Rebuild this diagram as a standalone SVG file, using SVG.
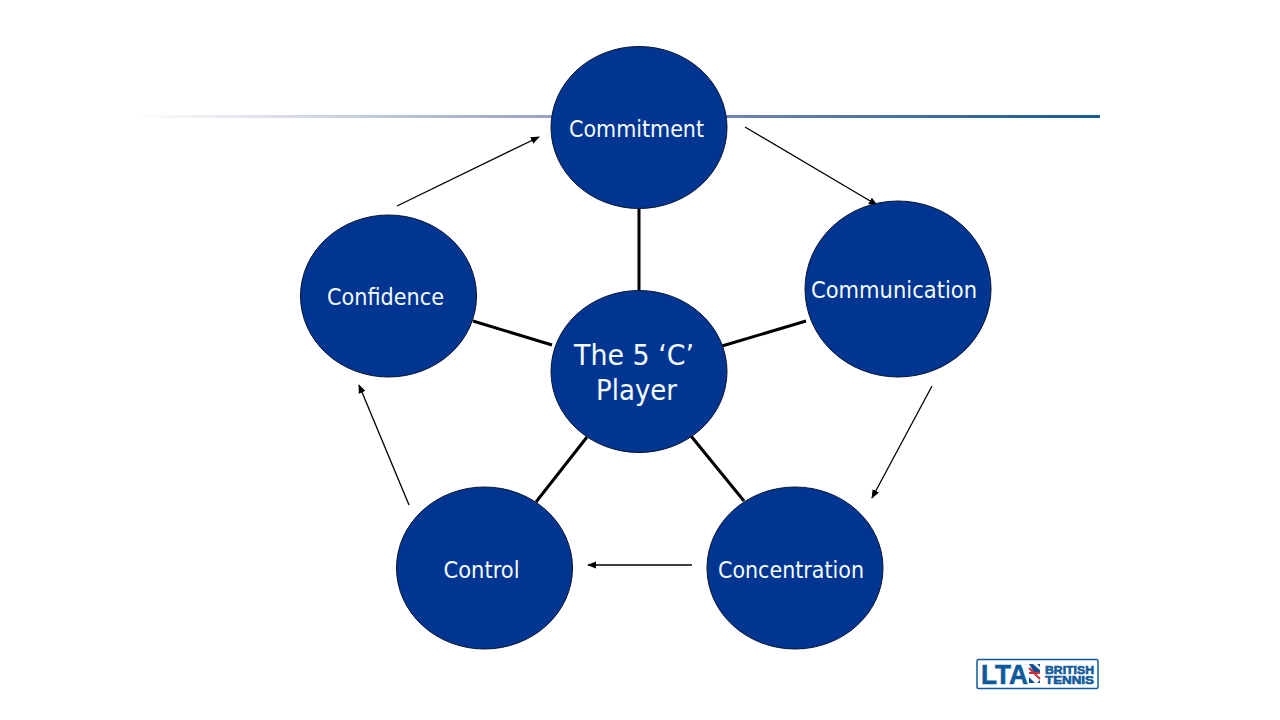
<svg xmlns="http://www.w3.org/2000/svg" width="1280" height="720" viewBox="0 0 1280 720">
<defs>
<linearGradient id="g" x1="0" x2="1" y1="0" y2="0"><stop offset="0" stop-color="#fff"/><stop offset="0.43" stop-color="#96a3c2"/><stop offset="0.62" stop-color="#6f84ac"/><stop offset="1" stop-color="#185a94"/></linearGradient>
<marker id="a" viewBox="0 0 10 10" refX="9" refY="5" markerWidth="9" markerHeight="9" markerUnits="userSpaceOnUse" orient="auto"><path d="M0 1L10 5L0 9Z" fill="#000"/></marker>
</defs>
<style>
.n{fill:#003591;stroke:#0a1430;stroke-width:1}
.t{font-family:"DejaVu Sans",Verdana,sans-serif;font-stretch:condensed;fill:#f4fbff;font-size:23px;text-anchor:middle}
.b{font-size:29px}
.s{stroke:#000;stroke-width:3;fill:none}
.f{stroke:#000;stroke-width:1.300;fill:none;marker-end:url(#a)}
.l{font-family:"Liberation Sans",Arial,sans-serif;font-weight:700;fill:#0f5a9c;stroke:#0f5a9c;stroke-width:.6}
</style>
<rect width="1280" height="720" fill="#fff"/>
<rect x="130" y="115" width="970" height="3" fill="url(#g)"/>
<g id="connectors">
<path class="s" d="M639 208V291M473 321L552 345M806 321L722 346M587 437L536 502M691 436L744 501"/>
<path class="f" d="M397 206L539 137"/>
<path class="f" d="M745 127L877 205"/>
<path class="f" d="M932 386L872 498"/>
<path class="f" d="M692 565H588"/>
<path class="f" d="M409 505L359 385"/>
</g>
<g id="commitment"><ellipse class="n" cx="639" cy="127.500" rx="88" ry="81"/><text class="t" x="636.500" y="136.500" textLength="135" lengthAdjust="spacingAndGlyphs">Commitment</text></g>
<g id="confidence"><ellipse class="n" cx="388.500" cy="296" rx="88" ry="81"/><text class="t" x="385.500" y="304.500" textLength="117" lengthAdjust="spacingAndGlyphs">Confidence</text></g>
<g id="communication"><ellipse class="n" cx="898" cy="289" rx="93" ry="88"/><text class="t" x="894" y="297.500" textLength="166" lengthAdjust="spacingAndGlyphs">Communication</text></g>
<g id="player"><ellipse class="n" cx="639" cy="371.500" rx="88" ry="81"/><text class="t b" x="634" y="365" textLength="120" lengthAdjust="spacingAndGlyphs">The 5 ‘C’</text><text class="t b" x="636.500" y="400" textLength="81" lengthAdjust="spacingAndGlyphs">Player</text></g>
<g id="control"><ellipse class="n" cx="484.500" cy="568" rx="88" ry="81"/><text class="t" x="481.500" y="577.500" textLength="76" lengthAdjust="spacingAndGlyphs">Control</text></g>
<g id="concentration"><ellipse class="n" cx="795" cy="568" rx="88" ry="81"/><text class="t" x="791" y="577.500" textLength="146" lengthAdjust="spacingAndGlyphs">Concentration</text></g>
<g id="logo">
<rect x="977" y="659.500" width="121" height="29" rx="1.500" fill="#fff" stroke="#0f5a9c" stroke-width="1.500"/>
<text class="l" x="981" y="683.500" font-size="27" textLength="47" lengthAdjust="spacingAndGlyphs">LTA</text>
<rect x="1028" y="664" width="12" height="19" fill="#fff"/>
<path d="M1029 664H1033L1040 670V674H1035ZM1029 683V677L1035 683ZM1040 664V667L1037 664ZM1040 683H1037L1040 680Z" fill="#0f4f96"/>
<path d="M1029 668L1040 679M1029 673H1040" stroke="#c8303a" stroke-width="2" fill="none"/>
<text class="l" x="1045" y="673.500" font-size="11.500" textLength="49" lengthAdjust="spacingAndGlyphs">BRITISH</text>
<text class="l" x="1045" y="683.500" font-size="11.500" textLength="49" lengthAdjust="spacingAndGlyphs">TENNIS</text>
</g>
</svg>
